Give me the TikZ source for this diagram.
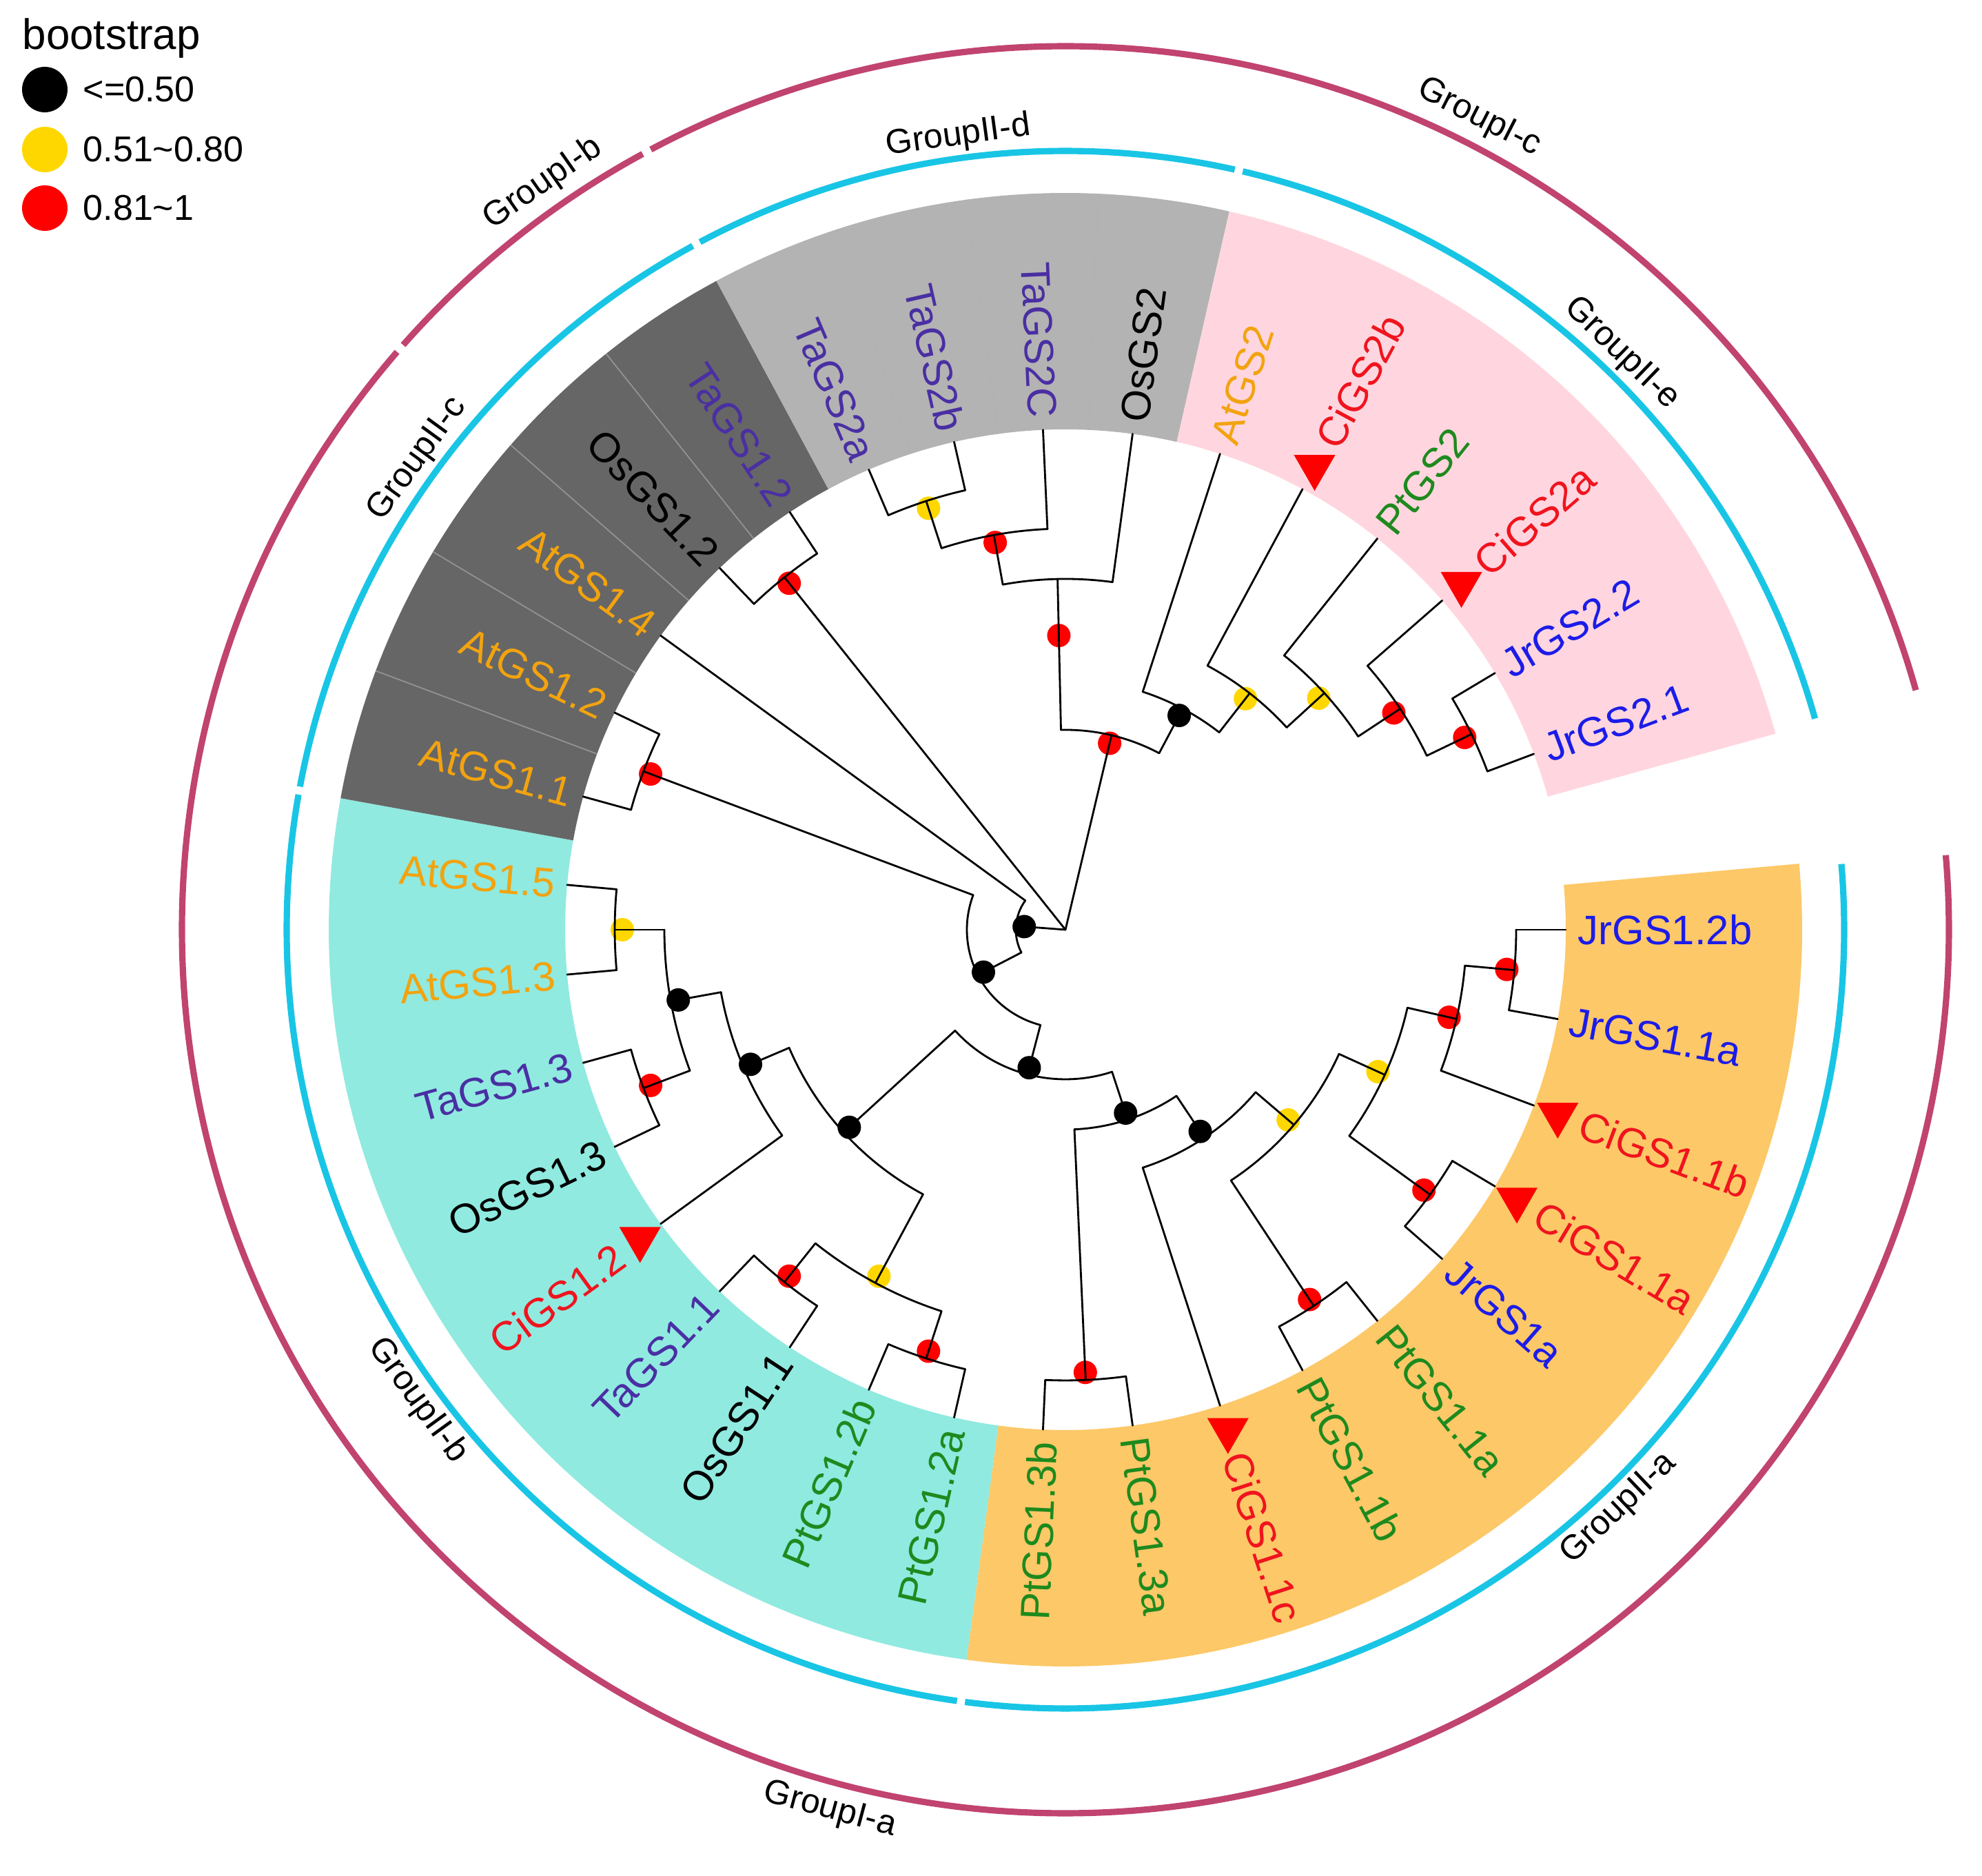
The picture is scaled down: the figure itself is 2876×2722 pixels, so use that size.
\documentclass[tikz,border=0pt]{standalone}
\usepackage{fontspec}
\setmainfont{Liberation Sans}
\definecolor{cJr}{HTML}{1C1CE8}
\definecolor{cCi}{HTML}{F0141E}
\definecolor{cPt}{HTML}{1E8A1E}
\definecolor{cAt}{HTML}{F2A30F}
\definecolor{cTa}{HTML}{4A2FA3}
\definecolor{cOs}{HTML}{000000}
\definecolor{bandPink}{HTML}{FFD6DF}
\definecolor{bandLG}{HTML}{B3B3B3}
\definecolor{bandDG}{HTML}{666666}
\definecolor{bandCy}{HTML}{90EAE0}
\definecolor{bandOr}{HTML}{FDC868}
\definecolor{ringCy}{HTML}{19C5E5}
\definecolor{ringMg}{HTML}{C1436F}
\definecolor{dotY}{HTML}{FFD700}
\definecolor{dotR}{HTML}{FF0000}
\definecolor{triR}{HTML}{FF0000}
\begin{document}
\begin{tikzpicture}[x=0.01cm,y=0.01cm,
  br/.style={line width=0.8pt, line cap=round, line join=round},
  leaflab/.style={inner sep=0pt, font=\fontsize{17}{20}\selectfont},
  grplab/.style={inner sep=0pt, font=\fontsize{14.2}{17}\selectfont},
  legtxt/.style={inner sep=0pt, anchor=west, font=\fontsize{14.8}{17}\selectfont},
  ringc/.style={line width=2.6pt, draw=ringCy},
  ringm/.style={line width=2.6pt, draw=ringMg}]
\useasboundingbox (0,0) rectangle (2876,2722);
\begin{scope}[shift={(1546,1373)}]
  % coloured bands
  \foreach \a/\b/\c in {262.286/365.143/bandOr, 169.714/262.286/bandCy,
      118.286/169.714/bandDG, 77.143/118.286/bandLG, 15.429/77.143/bandPink}
    \fill[\c] (\a:726) arc[start angle=\a, end angle=\b, radius=726]
      -- (\b:1069) arc[start angle=\b, end angle=\a, radius=1069] -- cycle;
  \foreach \t in {128.571,138.857,149.143,159.429}
    \draw[line width=0.5pt, draw=gray!85] (\t:726) -- (\t:1069);
  \foreach \t in {87.429,97.714,108.0}
    \draw[line width=0.5pt, draw=gray!60] (\t:726) -- (\t:1069);
  % rings
  \foreach \a/\b in {15.73/76.84, 77.44/117.99, 118.59/169.41, 170.01/261.99, 262.59/364.84}
    \draw[ringc] (\a:1130) arc[start angle=\a, end angle=\b, radius=1130];
  \foreach \a/\b in {15.73/117.99, 118.59/138.56, 139.16/364.84}
    \draw[ringm] (\a:1282) arc[start angle=\a, end angle=\b, radius=1282];
  % bootstrap dots (under the branches)
  \foreach \t/\r in {175.681/60, 207.362/134, 255.295/207, 288.161/280, 303.75/352,
      62.036/352, 190.286/571, 203.143/497, 222.429/425}
    \fill[black] (\t:\r) circle[radius=17];
  \foreach \t/\r in {180/643, 241.714/571, 108/643, 52.071/425, 42.429/498,
      319.5/425, 335.571/498}
    \fill[dotY] (\t:\r) circle[radius=17];
  \foreach \t/\r in {128.571/643, 100.286/571, 91.286/427, 76.661/278, 33.429/571,
      25.714/643, 159.429/643, 200.571/643, 231.429/643, 252/643, 272.571/643,
      303.429/643, 324/643, 347.143/571, 354.857/643}
    \fill[dotR] (\t:\r) circle[radius=17];
  % tree: arcs
  \foreach \r/\a/\b in {654/20.571/30.857, 582/25.714/41.143, 509/33.429/51.429,
      435/42.429/61.714, 363/52.071/72, 290/62.036/91.286, 509/82.286/100.286,
      582/92.571/108, 654/102.857/113.143, 654/123.429/133.714, 72/144/207.362,
      143/159.429/255.295, 654/154.286/164.571, 217/222.429/288.161,
      436/203.143/241.714, 508/190.286/216, 582/180/200.571, 654/174.857/185.143,
      654/195.429/205.714, 582/231.429/252, 654/226.286/236.571,
      654/246.857/257.143, 290/272.571/303.75, 654/267.429/277.714,
      363/288/319.5, 436/303.429/335.571, 654/298.286/308.571,
      509/324/347.143, 654/318.857/329.143, 582/339.429/354.857, 654/349.714/360}
    \draw[br] (\a:\r) arc[start angle=\a, end angle=\b, radius=\r];
  % tree: internal radial branches
  \foreach \t/\p/\c in {25.714/582/654, 33.429/509/582, 42.429/435/509,
      52.071/363/435, 62.036/290/363, 108/582/654, 100.286/509/582,
      91.286/290/509, 76.661/0/290, 128.571/0/654, 175.681/0/72,
      159.429/143/654, 207.362/72/143, 255.295/143/217, 222.429/217/436,
      288.161/217/290, 203.143/436/508, 241.714/436/582, 190.286/508/582,
      180/582/654, 200.571/582/654, 231.429/582/654, 252/582/654,
      272.571/290/654, 303.75/290/363, 319.5/363/436, 303.429/436/654,
      335.571/436/509, 324/509/654, 347.143/509/582, 354.857/582/654}
    \draw[br] (\t:\p) -- (\t:\c);
  % tree: leaf branches
  \foreach \t/\p in {20.571/654, 30.857/654, 41.143/582, 51.429/509, 61.714/435,
      72/363, 82.286/509, 92.571/582, 102.857/654, 113.143/654, 123.429/654,
      133.714/654, 144/72, 154.286/654, 164.571/654, 174.857/654, 185.143/654,
      195.429/654, 205.714/654, 216/508, 226.286/654, 236.571/654, 246.857/654,
      257.143/654, 267.429/654, 277.714/654, 288/363, 298.286/654, 308.571/654,
      318.857/654, 329.143/654, 339.429/582, 349.714/654, 360/654}
    \draw[br] (\t:\p) -- (\t:726);
  % red triangles for Ci genes
  \foreach \t in {41.143, 61.714, 216, 288, 329.143, 339.429}
    \fill[triR] (\t:763) ++(-30,17) -- ++(60,0) -- ++(-30,-52) -- cycle;
  % leaf labels, right half
  \foreach \t/\n/\c/\r [count=\i] in {20.571/JrGS2.1/cJr/743, 30.857/JrGS2.2/cJr/743,
      41.143/CiGS2a/cCi/798, 51.429/PtGS2/cPt/743, 61.714/CiGS2b/cCi/798,
      72.0/AtGS2/cAt/743, 82.286/OsGS2/cOs/743, 277.714/PtGS1.3a/cPt/743,
      288.0/CiGS1.1c/cCi/798, 298.286/PtGS1.1b/cPt/743, 308.571/PtGS1.1a/cPt/743,
      318.857/JrGS1a/cJr/743, 329.143/CiGS1.1a/cCi/798, 339.429/CiGS1.1b/cCi/798,
      349.714/JrGS1.1a/cJr/743, 360.0/JrGS1.2b/cJr/743}
    \node[leaflab, text=\c, anchor=west, rotate=\t] (lr\i) at (\t:\r) {\n};
  % leaf labels, left half
  \foreach \t/\n/\c/\r [count=\i] in {92.571/TaGS2C/cTa/743, 102.857/TaGS2b/cTa/743,
      113.143/TaGS2a/cTa/743, 123.429/TaGS1.2/cTa/743, 133.714/OsGS1.2/cOs/743,
      144.0/AtGS1.4/cAt/743, 154.286/AtGS1.2/cAt/743, 164.571/AtGS1.1/cAt/743,
      174.857/AtGS1.5/cAt/743, 185.143/AtGS1.3/cAt/743, 195.429/TaGS1.3/cTa/743,
      205.714/OsGS1.3/cOs/743, 216.0/CiGS1.2/cCi/798, 226.286/TaGS1.1/cTa/743,
      236.571/OsGS1.1/cOs/743, 246.857/PtGS1.2b/cPt/743, 257.143/PtGS1.2a/cPt/743,
      267.429/PtGS1.3b/cPt/743}
    \node[leaflab, text=\c, anchor=east, rotate=\t-180] (ll\i) at (\t:\r) {\n};
  % group labels
  \node[grplab, rotate=-44]  (g2e) at (46:1162)    {GroupII-e};
  \node[grplab, rotate=7.7]  (g2d) at (97.7:1162)  {GroupII-d};
  \node[grplab, rotate=54]   (g2c) at (144:1162)   {GroupII-c};
  \node[grplab, rotate=306]  (g2b) at (216:1162)   {GroupII-b};
  \node[grplab, rotate=43.7] (g2a) at (313.7:1162) {GroupII-a};
  \node[grplab, rotate=-27]  (g1c) at (63:1322)    {GroupI-c};
  \node[grplab, rotate=35]   (g1b) at (125:1322)   {GroupI-b};
  \node[grplab, rotate=345]  (g1a) at (255:1322)   {GroupI-a};
\end{scope}
% legend
\node[anchor=base west, inner sep=0pt, font=\fontsize{17.6}{20}\selectfont] (legtitle) at (32,2650) {bootstrap};
\fill[black] (65,2592) circle[radius=33];
\fill[dotY] (65,2505) circle[radius=33];
\fill[dotR] (65,2420) circle[radius=33];
\node[legtxt] (leg1) at (120,2592) {<=0.50};
\node[legtxt] (leg2) at (120,2505) {0.51\textasciitilde 0.80};
\node[legtxt] (leg3) at (120,2420) {0.81\textasciitilde 1};
\end{tikzpicture}
\end{document}
